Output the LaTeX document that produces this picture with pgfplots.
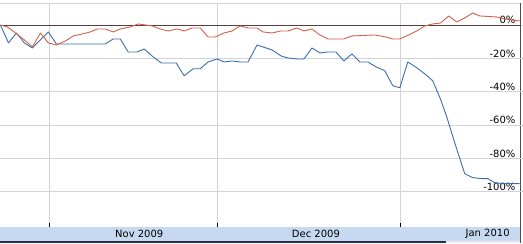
\documentclass[border=0pt]{standalone}
\usepackage{pgfplots}
\pgfplotsset{compat=1.18}
\usepackage{fontspec}
\setmainfont{DejaVu Sans}
\definecolor{bl}{RGB}{60,110,172}
\definecolor{rd}{RGB}{208,98,74}
\definecolor{grd}{RGB}{210,210,218}
\definecolor{band}{RGB}{198,217,240}
\definecolor{zero}{RGB}{85,62,62}
\definecolor{navy}{RGB}{35,50,72}
\begin{document}
\begin{tikzpicture}
\begin{axis}[
 set layers=standard,
 scale only axis, width=523pt, height=224pt,
 xmin=0, xmax=523, ymin=-121, ymax=13.2,
 axis line style={draw=none},
 clip=false,
 xtick={49,217,401}, xticklabels={,,},
 xmajorgrids, ymajorgrids,
 grid style={grd, line width=0.8pt},
 tick align=inside, xtick pos=bottom,
 major tick length=4pt,
 xtick style={black, line width=0.7pt},
 ytick={-100,-80,-60,-40,-20,0},
 yticklabels={-100\%,-80\%,-60\%,-40\%,-20\%,0\%},
 ytick style={draw=none},
 yticklabel pos=right,
 yticklabel style={anchor=base east, inner sep=0pt, xshift=-7pt, yshift=1pt, font=\fontsize{10}{12}\selectfont},
 extra x ticks={139,316,488},
 extra x tick labels={Nov 2009,Dec 2009,Jan 2010},
 extra x tick style={grid=none, major tick length=0pt, xticklabel style={anchor=center, yshift=-7.5pt, inner sep=0pt, font=\fontsize{10}{12}\selectfont}},
]
\begin{pgfonlayer}{axis background}
\path (axis cs:0,14.98) rectangle (axis cs:523,-130.6);
\fill[band] (axis cs:0,-121) rectangle (axis cs:521,-129.4);
\fill[navy] (axis cs:0,-129.4) rectangle (axis cs:446,-130.6);
\fill[gray!15] (axis cs:446,-129.4) rectangle (axis cs:521,-130.6);
\draw[grd, line width=0.8pt] (axis cs:0,13.2) -- (axis cs:521,13.2);
\draw[gray!60!black, line width=1pt] (axis cs:521,13.2) -- (axis cs:521,-130.6);
\end{pgfonlayer}
\draw[zero, line width=0.8pt] (axis cs:0,0) -- (axis cs:521,0);
\addplot[bl, line width=0.9pt, line join=round] table {
x y
0 0
8 -10.8
16 -4.8
24 -10.8
32 -13.8
40 -9.0
48 -4.2
56 -11.4
105 -11.4
113 -8.4
120 -8.4
128 -16.2
137 -16.2
144 -14.4
153 -19.2
161 -22.8
176 -22.8
184 -30.5
193 -26.3
200 -26.3
208 -22.2
217 -20.4
224 -22.2
232 -21.6
240 -22.2
248 -22.2
257 -12.0
263 -13.2
272 -15.0
281 -18.6
288 -19.8
297 -20.4
304 -20.4
312 -13.8
320 -16.8
328 -16.2
336 -16.2
344 -21.6
352 -17.4
360 -22.2
368 -22.2
376 -25.1
385 -27.5
393 -36.5
400 -37.7
408 -22.2
417 -25.7
425 -29.3
433 -33.5
441 -44.9
447 -55.1
455 -70.7
465 -89.2
473 -91.6
482 -92.2
488 -92.2
495 -94.6
503 -95.2
520 -95.2
};
\addplot[rd, line width=0.9pt, line join=round] table {
x y
0 0
7 -1.2
15 -4.8
24 -9.0
32 -13.2
40 -4.8
48 -10.8
56 -12.0
65 -9.6
73 -6.6
82 -5.4
90 -4.2
97 -2.4
105 -2.4
113 -4.2
120 -2.4
130 -1.2
138 0.6
145 0
152 -0.6
160 -2.4
168 -3.6
177 -2.4
184 -3.6
192 -1.8
200 -1.8
208 -7.2
215 -7.2
224 -4.8
232 -3.6
240 -0.6
248 -1.8
257 -1.8
263 -4.2
272 -4.8
281 -3.6
288 -3.6
297 -1.8
304 -3.6
312 -2.4
320 -6.0
328 -8.4
344 -8.4
352 -6.6
375 -6.0
386 -7.2
393 -8.4
400 -8.4
409 -6.0
417 -3.6
425 -0.6
433 0.6
441 1.2
449 5.4
457 1.8
465 4.2
473 7.2
480 5.4
497 4.8
505 3.6
520 2.4
};
\end{axis}
\end{tikzpicture}
\end{document}
